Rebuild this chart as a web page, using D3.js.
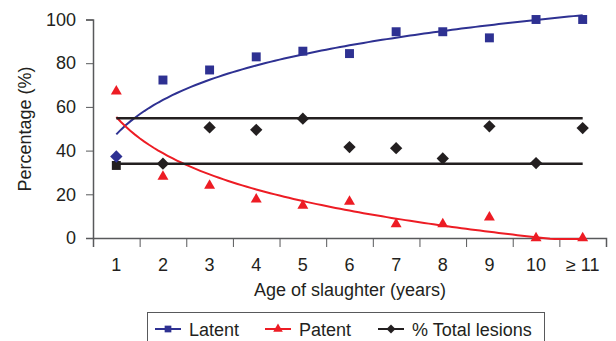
<!DOCTYPE html>
<html>
<head>
<meta charset="utf-8">
<script src="https://cdn.jsdelivr.net/npm/d3@7"></script>
<style>
  body { margin: 0; background: #fff; }
  svg { display: block; font-family: "Liberation Sans", Arial, sans-serif; }
  .axis path, .axis line { stroke: #58595b; }
</style>
</head>
<body>
<svg width="616" height="341"></svg>
<script>
// chart values
const ages = ["1", "2", "3", "4", "5", "6", "7", "8", "9", "10", "\u2265 11"];
const latent = [37.3, 72.3, 76.9, 82.9, 85.5, 84.4, 94.4, 94.4, 91.6, 100, 100];
const patent = [67.1, 28.1, 24.0, 17.7, 14.8, 16.7, 6.4, 6.4, 9.5, 0, 0];
const totalLesions = [33.2, 34.0, 50.6, 49.5, 54.6, 41.6, 41.1, 36.4, 51.1, 34.3, 50.3];
const totalBounds = [54.8, 34.0];
const yTicks = [0, 20, 40, 60, 80, 100];

const blue = "#2e3192", red = "#ed1c24", black = "#231f20";

const svg = d3.select("svg");

const x = d3.scaleLinear().domain([0.5, 11.5]).range([93, 606]);
const y = d3.scaleLinear().domain([0, 100]).range([238, 19.5]);

// axes
svg.append("g")
    .attr("class", "axis")
    .attr("transform", "translate(93,0)")
    .call(d3.axisLeft(y).tickValues(yTicks).tickSize(7).tickPadding(10))
    .call(g => g.select(".domain").attr("stroke-width", 1.5))
    .selectAll("text").attr("font-size", 18).attr("fill", "#231f20");

svg.append("g")
    .attr("class", "axis")
    .attr("transform", "translate(0,238)")
    .call(d3.axisBottom(x).tickValues(d3.range(0.5, 12, 1)).tickSize(9).tickFormat(""))
    .call(g => g.select(".domain").attr("stroke-width", 1.5));

svg.append("g")
  .selectAll("text")
  .data(ages)
  .enter().append("text")
    .attr("x", (d, i) => x(i + 1))
    .attr("y", 271)
    .attr("text-anchor", "middle")
    .attr("font-size", 18)
    .attr("fill", "#231f20")
    .text(d => d);

svg.append("text")
    .attr("x", 350)
    .attr("y", 296)
    .attr("text-anchor", "middle")
    .attr("font-size", 18)
    .attr("fill", "#231f20")
    .text("Age of slaughter (years)");

svg.append("text")
    .attr("transform", "translate(31,129) rotate(-90)")
    .attr("text-anchor", "middle")
    .attr("font-size", 18)
    .attr("fill", "#231f20")
    .text("Percentage (%)");

// logarithmic trend lines (least squares on ln x)
function logFit(vals) {
  const lx = vals.map((v, i) => Math.log(i + 1));
  const mx = d3.mean(lx), my = d3.mean(vals);
  const b = d3.sum(lx, (l, i) => (l - mx) * (vals[i] - my)) / d3.sum(lx, l => (l - mx) * (l - mx));
  const a = my - b * mx;
  return t => a + b * Math.log(t);
}

const line = d3.line().x(d => x(d[0])).y(d => y(d[1]));
const steps = d3.range(1, 11.001, 0.1);

[[latent, blue], [patent, red]].forEach(([vals, col]) => {
  const f = logFit(vals);
  svg.append("path")
      .attr("d", line(steps.map(t => [t, Math.max(f(t), -0.5)])))
      .attr("fill", "none")
      .attr("stroke", col)
      .attr("stroke-width", 2);
});

// total lesion bounds
svg.append("g")
  .selectAll("line")
  .data(totalBounds)
  .enter().append("line")
    .attr("x1", x(1))
    .attr("x2", x(11))
    .attr("y1", d => y(d))
    .attr("y2", d => y(d))
    .attr("stroke", black)
    .attr("stroke-width", 2.5);

// markers: diamond = square turned 45 degrees
const marks = {
  square: { d: d3.symbol().type(d3.symbolSquare).size(80)(), rot: 0 },
  triangle: { d: d3.symbol().type(d3.symbolTriangle).size(52)(), rot: 0 },
  diamond: { d: d3.symbol().type(d3.symbolSquare).size(76)(), rot: 45 }
};

function drawPoints(vals, col, shape) {
  svg.append("g")
    .selectAll("path")
    .data(vals)
    .enter().append("path")
      .attr("transform", (d, i) => "translate(" + x(i + 1) + "," + y(d) + ") rotate(" + marks[shape(i)].rot + ")")
      .attr("d", (d, i) => marks[shape(i)].d)
      .attr("fill", col);
}

// first point of latent/total is drawn with swapped symbols in the original
drawPoints(totalLesions, black, i => i === 0 ? "square" : "diamond");
drawPoints(patent, red, () => "triangle");
drawPoints(latent, blue, i => i === 0 ? "diamond" : "square");

// legend
const leg = svg.append("g");
leg.append("rect")
    .attr("x", 147.5).attr("y", 312.5)
    .attr("width", 397).attr("height", 40)
    .attr("fill", "#fff")
    .attr("stroke", "#58595b")
    .attr("stroke-width", 1);

const legendItems = [
  { label: "Latent", col: blue, type: d3.symbolSquare, size: 45, rot: 0, x0: 155 },
  { label: "Patent", col: red, type: d3.symbolTriangle, size: 40, rot: 0, x0: 265 },
  { label: "% Total lesions", col: black, type: d3.symbolSquare, size: 40, rot: 45, x0: 378 }
];

legendItems.forEach(it => {
  leg.append("line")
      .attr("x1", it.x0).attr("x2", it.x0 + 26)
      .attr("y1", 329).attr("y2", 329)
      .attr("stroke", it.col).attr("stroke-width", 2);
  leg.append("path")
      .attr("transform", "translate(" + (it.x0 + 13) + ",329) rotate(" + it.rot + ")")
      .attr("d", d3.symbol().type(it.type).size(it.size)())
      .attr("fill", it.col);
  leg.append("text")
      .attr("x", it.x0 + 34)
      .attr("y", 335.5)
      .attr("font-size", 18)
      .attr("fill", "#231f20")
      .text(it.label);
});
</script>
</body>
</html>
